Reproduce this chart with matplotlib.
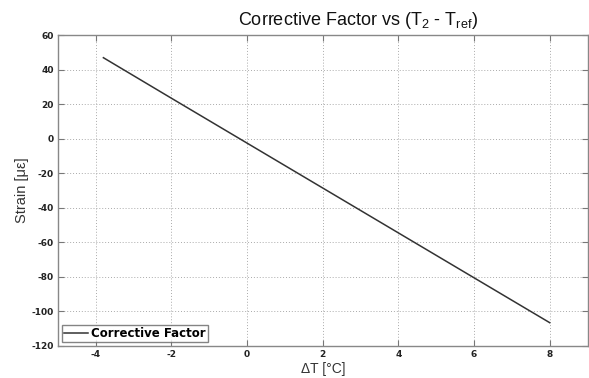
import matplotlib
matplotlib.use("Agg")
import matplotlib.pyplot as plt

plt.rcParams["axes.unicode_minus"] = False
plt.rcParams["mathtext.fontset"] = "custom"
plt.rcParams["mathtext.rm"] = "Liberation Sans"

delta_t = [-3.8, -2, 0, 2, 4, 6, 8]
strain = [47, 23.5, -2.5, -28.5, -54.5, -80.5, -106.5]
x_ticks = [-4, -2, 0, 2, 4, 6, 8]
y_ticks = [60, 40, 20, 0, -20, -40, -60, -80, -100, -120]

fig = plt.figure(figsize=(5.89, 3.78), dpi=100)
ax = fig.add_axes([0.0985, 0.0847, 0.899, 0.822])

ax.plot(delta_t, strain, color="#333333", linewidth=1.1, label="Corrective Factor")
ax.set_xlim(-5, 9)
ax.set_ylim(-120, 60)
ax.set_xticks(x_ticks)
ax.set_yticks(y_ticks)
ax.grid(True, linestyle=(0, (1, 2)), color="#aaaaaa", linewidth=0.7)
for s in ax.spines.values():
    s.set_color("#888888")
    s.set_linewidth(1.0)
ax.tick_params(direction="in", top=True, right=True, length=4, color="#777777",
               labelsize=6.5, pad=3)
for lab in ax.get_xticklabels() + ax.get_yticklabels():
    lab.set_fontweight("bold")
    lab.set_color("#222222")

fig.text(0.608, 0.935, "Corrective Factor vs (T$_\\mathrm{2}$ - T$_\\mathrm{ref}$)",
         fontsize=13, family="Liberation Sans", color="#111111",
         ha="center", va="baseline")
ax.set_xlabel("ΔT [°C]", fontsize=10, family="Liberation Sans", color="#333333", labelpad=2)
ax.set_ylabel("Strain [με]", fontsize=10.5, family="Liberation Sans", color="#333333", labelpad=2)

leg = ax.legend(loc="lower left", prop={"weight": "bold", "size": 8.5},
                fancybox=False, edgecolor="#666666", borderpad=0.2,
                handlelength=2.0, handletextpad=0.3, borderaxespad=0.3)
leg.get_frame().set_linewidth(1.0)

fig.savefig("out.png", dpi=100)
